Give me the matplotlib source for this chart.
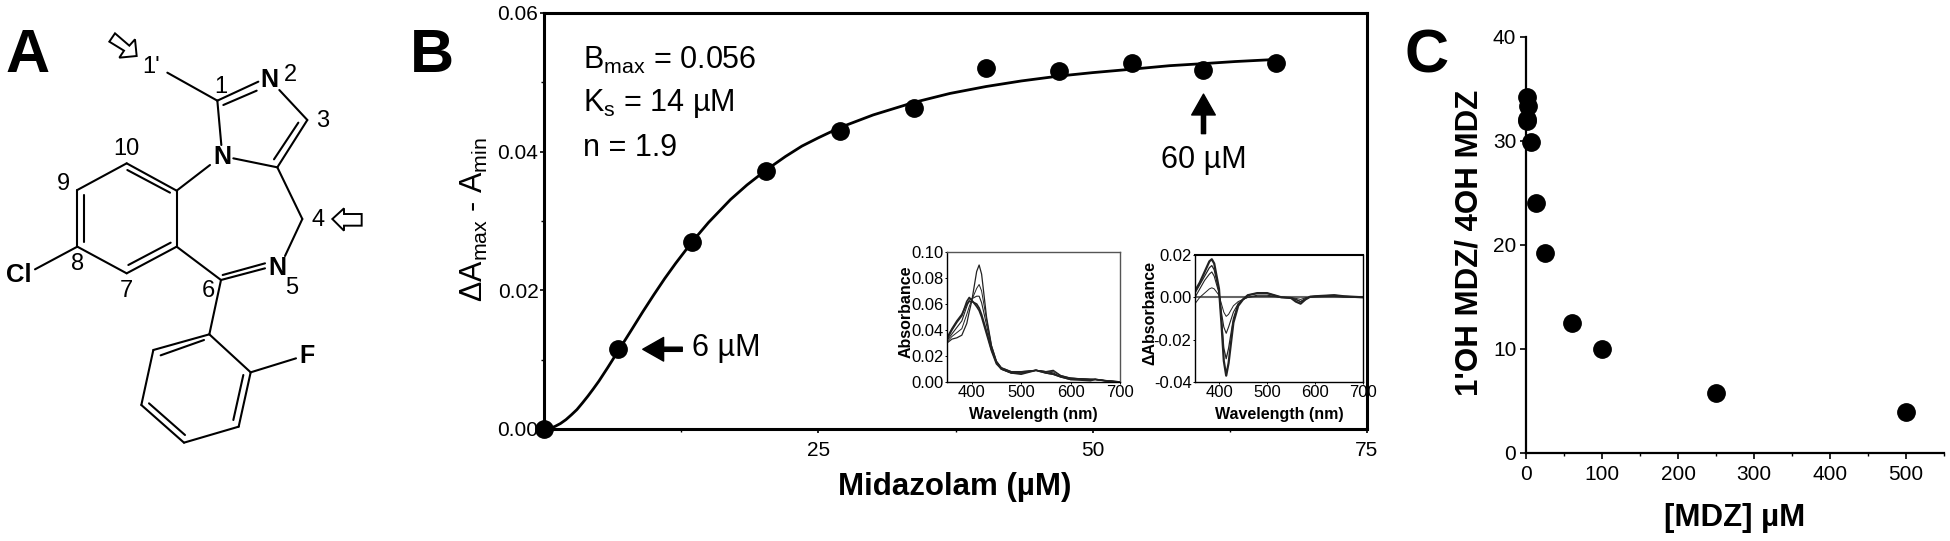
import matplotlib
matplotlib.use("Agg")
import matplotlib.pyplot as plt
from matplotlib.patches import Polygon
from matplotlib.ticker import MultipleLocator, FixedLocator

plt.rcParams['font.family'] = ['Liberation Sans', 'DejaVu Sans']
plt.rcParams['mathtext.default'] = 'regular'

W, H = 1950, 541

# ---------- Panel B data ----------
mdz_um = [0, 6.74, 13.5, 20.2, 27.0, 33.7, 40.3, 46.9, 53.6, 60.1, 66.7]
delta_a = [0.0, 0.0115, 0.0270, 0.0372, 0.0430, 0.0463, 0.0520, 0.0517, 0.0528, 0.0518, 0.0528]
fit_x = [0, 0.5, 1, 1.5, 2, 2.5, 3, 3.5, 4, 4.5, 5, 5.8, 6.74, 7.4, 8, 9, 10, 11, 12, 13.5, 15, 17,
         18.5, 20.2, 22, 23.5, 25, 27, 30, 33.7, 37, 40.3, 43.5, 46.9, 50, 53.6, 57, 60.1, 63, 66.7]
fit_y = [0, 0.0001, 0.00037, 0.00079, 0.00135, 0.00205, 0.0028, 0.00375, 0.00474, 0.0058, 0.0069,
         0.00884, 0.0112, 0.01285, 0.01436, 0.0169, 0.01934, 0.0217, 0.0239, 0.0270, 0.0298, 0.0331,
         0.0352, 0.0373, 0.0393, 0.0408, 0.0420, 0.0435, 0.0453, 0.0471, 0.0484, 0.0494, 0.0502,
         0.0509, 0.0514, 0.0519, 0.0524, 0.0527, 0.0530, 0.0533]

# ---------- Inset spectra ----------
wl_abs = [350, 360, 370, 380, 390, 395, 400, 410, 415, 420, 430, 440, 450, 460, 480, 500, 530,
          550, 565, 580, 600, 640, 650, 670, 700]
abs_0 = [.030, .033, .034, .036, .045, .054, .062, .085, .090, .083, .050, .028, .016, .011, .008,
         .008, .009, .008, .009, .005, .003, .002, .002, .001, 0]
abs_1 = [.031, .035, .038, .041, .052, .058, .063, .072, .075, .070, .048, .028, .016, .011, .008,
         .008, .009, .008, .008, .005, .003, .002, .002, .001, 0]
abs_2 = [.032, .037, .042, .047, .058, .063, .064, .066, .066, .061, .044, .026, .015, .010, .007,
         .007, .009, .008, .007, .004, .003, .002, .002, .001, 0]
abs_3 = [.033, .040, .046, .051, .062, .065, .063, .058, .055, .050, .037, .024, .014, .010, .007,
         .007, .009, .007, .006, .004, .002, .002, .002, .001, 0]
abs_4 = [.034, .041, .047, .052, .060, .062, .062, .060, .057, .052, .039, .025, .015, .010, .007,
         .006, .009, .007, .006, .004, .002, .001, .002, .001, 0]

wl_diff = [350, 360, 370, 380, 385, 390, 400, 405, 410, 415, 420, 430, 440, 450, 460, 480, 500, 515,
           530, 550, 560, 570, 580, 590, 600, 640, 660, 700]
diff_0 = [.003, .007, .012, .017, .018, .016, .004, -.012, -.030, -.037, -.031, -.012, -.004, -.001,
          .001, .002, .002, .001, 0, -.0003, -.002, -.003, -.001, .0003, .0005, .001, .0005, 0]
diff_1 = [.002, .006, .010, .014, .015, .013, .003, -.010, -.024, -.029, -.024, -.010, -.003, -.001,
          .001, .002, .002, .001, 0, -.0003, -.001, -.002, -.001, .0003, .0005, .001, .0005, 0]
diff_2 = [.000, .004, .008, .011, .012, .010, .002, -.007, -.014, -.017, -.014, -.007, -.003, -.001,
          .000, .001, .001, .0005, 0, -.0002, -.001, -.002, -.0005, .0002, .0003, .0005, .0003, 0]
diff_3 = [-.003, .000, .002, .004, .0045, .004, .001, -.003, -.007, -.009, -.008, -.004, -.002, -.001,
          .000, .0005, .0005, .0003, 0, -.0001, -.0005, -.001, -.0002, .0001, .0002, .0003, .0001, 0]

# ---------- Panel C data ----------
mdz_c = [1, 3, 1, 1, 6, 13, 25, 60, 100, 250, 500]
ratio_c = [34.2, 33.4, 32.1, 31.9, 29.9, 24.0, 19.2, 12.5, 10.0, 5.8, 3.9]

# ---------- Panel A structure (reference pixels x3) ----------
bonds = [
    (502, 218, 652, 302), (652, 302, 775, 245), (670, 315, 770, 272), (838, 270, 922, 360),
    (922, 360, 832, 502), (895, 368, 822, 478), (832, 502, 700, 475), (652, 302, 664, 435),
    (630, 495, 530, 572), (530, 572, 380, 490), (510, 578, 382, 510), (380, 490, 232, 570),
    (232, 570, 232, 740), (253, 585, 253, 725), (232, 740, 380, 820), (380, 820, 530, 740),
    (385, 795, 512, 728), (530, 740, 530, 572), (530, 740, 663, 840), (663, 840, 795, 805),
    (668, 825, 795, 790), (855, 768, 907, 657), (907, 657, 832, 502), (663, 840, 628, 1003),
    (628, 1003, 460, 1050), (612, 1020, 482, 1066), (460, 1050, 424, 1215), (424, 1215, 552, 1328),
    (447, 1210, 555, 1305), (552, 1328, 716, 1280), (716, 1280, 752, 1117), (700, 1260, 730, 1125),
    (752, 1117, 628, 1003), (752, 1117, 888, 1075), (232, 740, 105, 808),
]
atoms = [("N", 808, 240, 18), ("N", 666, 470, 18), ("N", 832, 805, 18), ("Cl", 57, 825, 18.5),
         ("F", 920, 1068, 18)]
numbers = [("1'", 452, 200), ("1", 662, 262), ("2", 872, 226), ("3", 968, 363), ("4", 955, 660),
           ("5", 876, 865), ("6", 625, 872), ("7", 380, 872), ("8", 232, 793), ("9", 191, 552),
           ("10", 380, 447)]
arrow_4 = [(997, 657), (1032, 625), (1032, 642), (1085, 642), (1085, 677), (1032, 677), (1032, 692)]
arrow_1 = [(345, 100), (328, 125), (372, 152), (358, 173), (410, 168), (405, 118), (388, 137)]

fig = plt.figure(figsize=(W / 100, H / 100), dpi=100, facecolor='white')


def axes_px(l, t, r, b, **kw):
    return fig.add_axes([l / W, 1 - b / H, (r - l) / W, (b - t) / H], **kw)


bg = fig.add_axes([0, 0, 1, 1], zorder=0)
bg.set_xlim(0, W)
bg.set_ylim(H, 0)
bg.axis('off')


def txt(x, y, s, size, **kw):
    kw.setdefault('ha', 'center')
    kw.setdefault('va', 'center')
    return bg.text(x, y, s, fontsize=size, **kw)


# Panel letters
txt(28, 56, "A", 44, weight='bold')
txt(432, 57, "B", 44, weight='bold')
txt(1427, 57, "C", 44, weight='bold')

# Panel A
for x0, y0, x1, y1 in bonds:
    bg.plot([x0 / 3, x1 / 3], [y0 / 3, y1 / 3], color='k', lw=1.5, solid_capstyle='round')
for s, x, y, fs in atoms:
    txt(x / 3, y / 3, s, fs, weight='bold')
for s, x, y in numbers:
    txt(x / 3, y / 3, s, 17)
for pts in (arrow_4, arrow_1):
    bg.add_patch(Polygon([(x / 3, y / 3) for x, y in pts], closed=True, fc='white', ec='k', lw=1.4))

# Panel B
ax = axes_px(544, 13, 1367, 429, zorder=1)
ax.set_xlim(0, 75)
ax.set_ylim(0, 0.06)
ax.patch.set_alpha(0)
for sp in ax.spines.values():
    sp.set_linewidth(2.2)
ax.plot(fit_x, fit_y, color='k', lw=2, zorder=3, clip_on=False)
ax.plot(mdz_um, delta_a, 'o', color='k', ms=12.5, zorder=4, clip_on=False)
ax.xaxis.set_major_locator(FixedLocator([25, 50, 75]))
ax.xaxis.set_minor_locator(FixedLocator([12.5, 37.5, 62.5]))
ax.yaxis.set_major_locator(MultipleLocator(0.02))
ax.yaxis.set_minor_locator(MultipleLocator(0.01))
ax.yaxis.set_major_formatter(plt.FuncFormatter(lambda v, p: f"{v:.2f}"))
ax.tick_params(axis='both', which='major', length=3, width=1.2, labelsize=15, pad=1)
ax.tick_params(axis='both', which='minor', length=2, width=1)
ax.tick_params(axis='x', pad=6)
ax.annotate("", xy=(9.0, 0.0115), xytext=(12.6, 0.0115),
            arrowprops=dict(fc='k', ec='k', width=3, headwidth=17, headlength=15, shrink=0))
ax.annotate("", xy=(60.1, 0.0483), xytext=(60.1, 0.0426),
            arrowprops=dict(fc='k', ec='k', width=3, headwidth=17, headlength=15, shrink=0))
txt(583, 60, "B$_{max}$ = 0.056", 22, ha='left')
txt(583, 104, "K$_{s}$ = 14 µM", 22, ha='left')
txt(583, 148, "n = 1.9", 22, ha='left')
txt(692, 348, "6 µM", 22, ha='left')
txt(1204, 160, "60 µM", 22)
txt(474, 220, "ΔA$_{max}$ - A$_{min}$", 22, rotation=90)
txt(955, 487, "Midazolam (µM)", 22.5, weight='bold')

# Insets
ia = axes_px(947, 252, 1120, 382, zorder=2)
ia.set_xlim(350, 700)
ia.set_ylim(0, 0.10)
for curve, lw in ((abs_0, .9), (abs_1, .7), (abs_2, .8), (abs_3, 1.2), (abs_4, 1.2)):
    ia.plot(wl_abs, curve, color='#222222', lw=lw)
for sp in ia.spines.values():
    sp.set_linewidth(1.0)
    sp.set_color('#555555')
ia.spines['bottom'].set_color('k')
ia.spines['left'].set_color('k')
ia.xaxis.set_major_locator(FixedLocator([400, 500, 600, 700]))
ia.yaxis.set_major_locator(MultipleLocator(0.02))
ia.yaxis.set_major_formatter(plt.FuncFormatter(lambda v, p: f"{v:.2f}"))
ia.tick_params(length=1.5, width=.7, labelsize=12, pad=1)
txt(906, 312, "Absorbance", 11.5, weight='bold', rotation=90)
txt(1033, 415, "Wavelength (nm)", 11.5, weight='bold')

ib = axes_px(1195, 255, 1363, 382, zorder=2)
ib.set_xlim(350, 700)
ib.set_ylim(-0.04, 0.02)
ib.axhline(0, color='#666666', lw=1.5)
for curve, lw in ((diff_0, 1.6), (diff_1, .9), (diff_2, .8), (diff_3, .7)):
    ib.plot(wl_diff, curve, color='#222222', lw=lw)
for sp in ib.spines.values():
    sp.set_linewidth(1.0)
ib.spines['top'].set_linewidth(1.5)
ib.xaxis.set_major_locator(FixedLocator([400, 500, 600, 700]))
ib.yaxis.set_major_locator(MultipleLocator(0.02))
ib.yaxis.set_major_formatter(plt.FuncFormatter(lambda v, p: f"{v:.2f}"))
ib.tick_params(length=1.5, width=.7, labelsize=12, pad=1)
txt(1150, 313, "ΔAbsorbance", 11.5, weight='bold', rotation=90)
txt(1279, 415, "Wavelength (nm)", 11.5, weight='bold')

# Panel C
ac = axes_px(1526, 37, 1944, 453, zorder=1)
ac.set_xlim(0, 550)
ac.set_ylim(0, 40)
ac.patch.set_alpha(0)
ac.spines['top'].set_visible(False)
ac.spines['right'].set_visible(False)
ac.spines['left'].set_linewidth(1.6)
ac.spines['bottom'].set_linewidth(1.6)
ac.plot(mdz_c, ratio_c, 'o', color='k', ms=12.5, clip_on=False, zorder=4)
ac.xaxis.set_major_locator(MultipleLocator(100))
ac.xaxis.set_minor_locator(MultipleLocator(50))
ac.yaxis.set_major_locator(MultipleLocator(10))
ac.tick_params(axis='both', which='major', length=4, width=1.2, labelsize=15, pad=3)
ac.tick_params(axis='x', which='minor', length=2.5, width=1)
ac.tick_params(axis='x', pad=5)
txt(1469, 243, "1'OH MDZ/ 4OH MDZ", 22.5, weight='bold', rotation=90)
txt(1735, 518, "[MDZ] µM", 22.5, weight='bold')

fig.savefig("out.png", dpi=100)
